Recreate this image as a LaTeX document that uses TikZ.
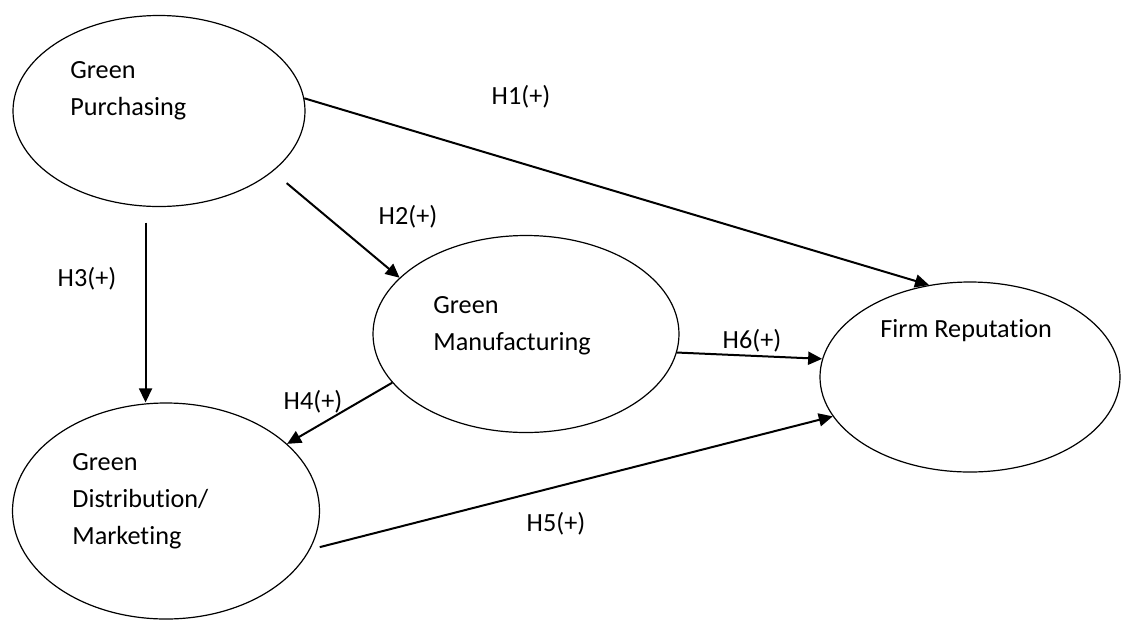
\documentclass[tikz,border=0pt]{standalone}
\usepackage{fontspec}
\setmainfont{Carlito}[Ligatures=NoCommon]
\usetikzlibrary{shapes.geometric,arrows.meta}

\begin{document}
\begin{tikzpicture}[x=0.5pt, y=-0.5pt, font=\fontsize{13.1}{18.5}\selectfont]
\tikzset{
  cons/.style={draw, ellipse, line width=0.6pt, inner sep=0pt},
  txt/.style={anchor=base west, align=left, inner sep=0pt},
  hyp/.style={line width=1pt, -{Triangle[length=7pt, width=6.5pt]}},
  lab/.style={inner sep=0pt}}
\useasboundingbox (0,0) rectangle (1125,622);

% ---------------- constructs ----------------
\node[cons, minimum width=146pt, minimum height=95.5pt] (gp) at (159,111) {};
\node[cons, minimum width=153pt, minimum height=98.5pt] (gm) at (526,334) {};
\node[cons, minimum width=150pt, minimum height=95pt]   (fr) at (970,377) {};
\node[cons, minimum width=153.5pt, minimum height=108pt] (gd) at (166,511) {};

% last line sits on the given point
\node[txt] (gpt) at (70,115)  {Green\\Purchasing};
\node[txt] (gmt) at (433,350) {Green\\Manufacturing};
\node[txt] (frt) at (880,337) {Firm Reputation};
\node[txt] (gdt) at (72,544)  {Green\\Distribution/\\Marketing};

% ---------------- hypotheses ----------------
\draw[hyp] (gp.5) -- (fr.114);
\draw[hyp, shorten <=9pt] (gp.-28) -- (gm.156);
\draw[hyp, shorten <=8pt] (gp.-98) -- (gp.-98 |- gd.north);
\draw[hyp] (gm.200) -- (gd.29);
\draw[hyp, shorten <=5pt] (gd.-15) -- (fr.196);
\draw[hyp] (gm.-7) -- (fr.173);

\node[lab] (h1) at (521,97)  {H1(+)};
\node[lab] (h2) at (408,217) {H2(+)};
\node[lab] (h3) at (87,279)  {H3(+)};
\node[lab] (h4) at (313,402) {H4(+)};
\node[lab] (h5) at (556,524) {H5(+)};
\node[lab] (h6) at (752,341) {H6(+)};
\end{tikzpicture}
\end{document}
